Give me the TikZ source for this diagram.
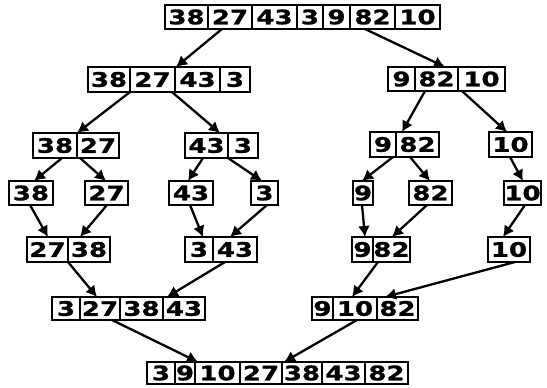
\documentclass[tikz,border=0pt]{standalone}
\usepackage{fontspec}
\newfontfamily\cellfont{DejaVu Sans Bold}[FakeStretch=1.3,FakeBold=1.2]
\usetikzlibrary{arrows.meta}
\tikzset{
  cellbox/.style={draw, line width=2pt, inner sep=0pt, outer sep=0pt, font=\cellfont\fontsize{20}{24}\selectfont},
  link/.style={line width=2.3pt, -{Latex[length=11pt,width=12pt]}},
}
\newcommand\cellrow[4]{%
  \foreach \xa/\xb/\t [count=\i] in {#4} {
    \node[cellbox, minimum width={(\xb-\xa)*1pt}, minimum height={(#3-#2)*1pt}]
      (#1-\i) at ({(\xa+\xb)/2},{(#2+#3)/2}) {\t};
  }%
}
\begin{document}
\begin{tikzpicture}[x=1pt,y=-1pt]
\useasboundingbox (0,0) rectangle (547,388);
\cellrow{A}{5}{29}{165/208/38,208/252/27,252/297/43,297/323/3,323/350/9,350/395/82,395/440/10}
\cellrow{B}{67}{92}{88/130/38,130/175/27,175/220/43,220/250/3}
\cellrow{R}{67}{91}{388/415/9,415/458/82,458/505/10}
\cellrow{C1}{133}{158}{33/77/38,77/119/27}
\cellrow{C2}{133}{158}{185/228/43,228/258/3}
\cellrow{C3}{132}{157}{370/396/9,396/439/82}
\cellrow{C4}{132}{157}{489/532/10}
\cellrow{D1}{181}{205}{9/53/38}
\cellrow{D2}{181}{205}{85/128/27}
\cellrow{D3}{181}{205}{169/213/43}
\cellrow{D4}{181}{205}{251/278/3}
\cellrow{D5}{181}{205}{353/373/9}
\cellrow{D6}{181}{205}{409/452/82}
\cellrow{D7}{181}{205}{504/541/10}
\cellrow{E1}{237}{262}{27/68/27,68/110/38}
\cellrow{E2}{237}{262}{185/213/3,213/257/43}
\cellrow{E3}{237}{262}{352/373/9,373/410/82}
\cellrow{E4}{237}{262}{488/530/10}
\cellrow{F1}{297}{320}{52/80/3,80/120/27,120/163/38,163/205/43}
\cellrow{F2}{297}{320}{312/333/9,333/377/10,377/418/82}
\cellrow{G}{362}{384}{147/175/3,175/195/9,195/240/10,240/282/27,282/322/38,322/365/43,365/408/82}
% splitting
\draw[link] ([xshift=14pt]A-2.south west) -- ([xshift=1pt]B-3.north west);
\draw[link] ([xshift=15pt]A-6.south west) -- ([xshift=30pt]R-2.north west);
\draw[link] (B-2.south west) -- (C1-2.north west);
\draw[link] ([xshift=-3pt]B-2.south east) -- ([xshift=35pt]C2-1.north west);
\draw[link] ([xshift=10pt]R-2.south west) -- ([xshift=6pt]C3-2.north west);
\draw[link] ([xshift=4pt]R-3.south west) -- ([xshift=18pt]C4-1.north west);
\draw[link] ([xshift=29pt]C1-1.south west) -- ([xshift=25pt]D1-1.north west);
\draw[link] ([xshift=3pt]C1-2.south west) -- ([xshift=21pt]D2-1.north west);
\draw[link] ([xshift=18pt]C2-1.south west) -- ([xshift=19pt]D3-1.north west);
\draw[link] (C2-2.south west) -- ([xshift=11pt]D4-1.north west);
\draw[link] ([xshift=23pt]C3-1.south west) -- ([xshift=9pt]D5-1.north west);
\draw[link] ([xshift=14pt]C3-2.south west) -- ([xshift=21pt]D6-1.north west);
\draw[link] ([xshift=21pt]C4-1.south west) -- ([xshift=19pt]D7-1.north west);
% merging
\draw[link] ([xshift=21pt]D1-1.south west) -- ([xshift=21pt]E1-1.north west);
\draw[link] ([xshift=22pt]D2-1.south west) -- ([xshift=12pt]E1-2.north west);
\draw[link] ([xshift=21pt]D3-1.south west) -- ([xshift=18pt]E2-1.north west);
\draw[link] ([xshift=16pt]D4-1.south west) -- ([xshift=17pt]E2-2.north west);
\draw[link] ([xshift=9pt]D5-1.south west) -- ([xshift=13pt]E3-1.north west);
\draw[link] ([xshift=18pt]D6-1.south west) -- ([xshift=19pt]E3-2.north west);
\draw[link] ([xshift=21pt]D7-1.south west) -- ([xshift=15pt]E4-1.north west);
\draw[link] (E1-2.south west) -- ([xshift=17pt]F1-2.north west);
\draw[link] ([xshift=12pt]E2-2.south west) -- ([xshift=4pt]F1-4.north west);
\draw[link] ([xshift=5pt]E3-2.south west) -- ([xshift=19pt]F2-2.north west);
\draw[link] ([xshift=27pt]E4-1.south west) -- ([xshift=8pt]F2-3.north west);
\draw[link] ([xshift=32pt]F1-2.south west) -- ([xshift=3pt]G-3.north west);
\draw[link] ([xshift=24pt]F2-2.south west) -- ([xshift=2pt]G-5.north west);
\end{tikzpicture}
\end{document}
